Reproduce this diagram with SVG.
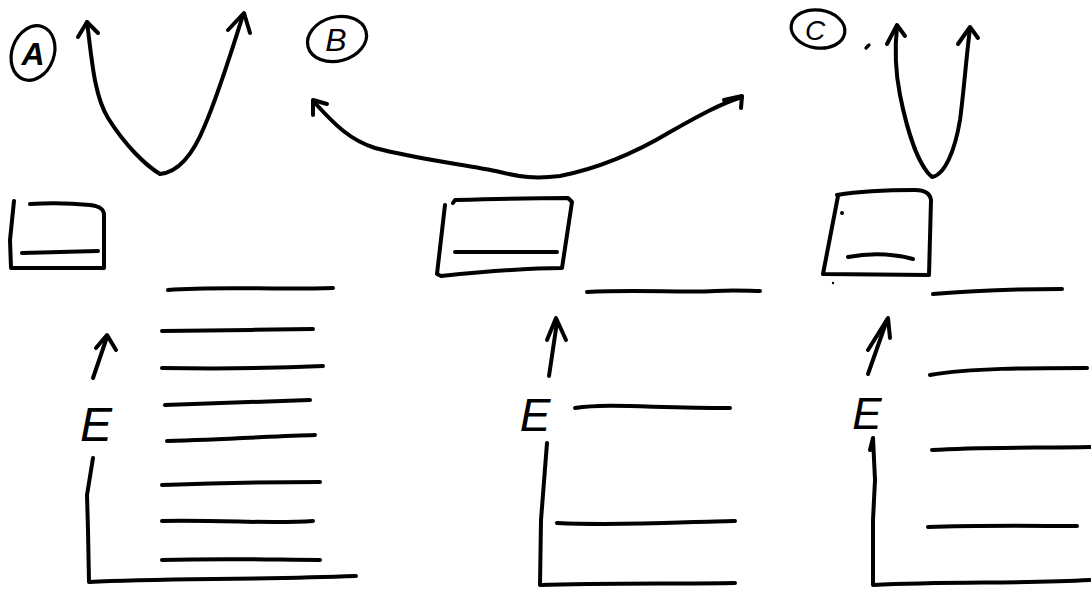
<svg xmlns="http://www.w3.org/2000/svg" width="1091" height="596" viewBox="0 0 1091 596">
<style>
.s{fill:none;stroke:#000;stroke-width:4;stroke-linecap:round;stroke-linejoin:round}
.t{fill:none;stroke:#000;stroke-width:3.2;stroke-linecap:round;stroke-linejoin:round}
.l{font-family:"Liberation Sans",Arial,sans-serif;font-style:italic;fill:#000}
</style>
<rect width="1091" height="596" fill="#fff"/>

<!-- Panel A -->
<g id="labelA">
<ellipse cx="33" cy="53" rx="21" ry="28" transform="rotate(20 33 53)" class="t"/>
<text x="33" y="65" text-anchor="middle" font-size="32" font-weight="bold" class="l">A</text>
</g>
<g id="curveA">
<path class="s" d="M87,22 C92,60 94,95 108,118 C125,145 145,165 160,174 C180,172 195,150 205,125 C218,95 232,50 243,15"/>
<path class="s" d="M78,37 L87,22 L98,33"/>
<path class="s" d="M228,30 L244,13 L250,33"/>
</g>
<g id="boxA">
<path class="s" d="M14,201 L10,240 L11,268 L104,268 L104,215 C104,208 98,206 90,205 C70,203 45,203 30,204"/>
<path class="s" d="M22,253 L98,251"/>
</g>
<g id="levelsA">
<path class="s" d="M168,290 C220,286 270,290 333,288"/>
<path class="s" d="M162,331 C220,330 260,330 313,329"/>
<path class="s" d="M162,368 C220,369 280,368 323,366"/>
<path class="s" d="M165,405 C220,403 270,401 310,400"/>
<path class="s" d="M167,441 C230,439 280,436 315,435"/>
<path class="s" d="M162,485 C220,483 280,482 320,482"/>
<path class="s" d="M162,521 C230,520 270,524 313,521"/>
<path class="s" d="M162,560 C230,558 280,560 320,560"/>
</g>
<g id="axisA">
<path class="s" d="M93,378 L107,337"/>
<path class="s" d="M96,348 L107,335 L116,350"/>
<text x="96" y="441" text-anchor="middle" font-size="48" class="l">E</text>
<path class="s" d="M93,458 L87,495 L88,530 L89,582 C160,578 250,580 356,576"/>
</g>

<!-- Panel B -->
<g id="labelB">
<ellipse cx="337" cy="39" rx="30" ry="22" transform="rotate(-15 337 39)" class="t"/>
<text x="336" y="51" text-anchor="middle" font-size="32" class="l">B</text>
</g>
<g id="curveB">
<path class="s" d="M315,103 C335,125 350,140 375,148 C420,160 470,165 500,172 C520,177 535,179 560,176 C600,168 640,150 670,132 C700,115 720,104 742,97"/>
<path class="s" d="M313,115 L313,100 L327,104"/>
<path class="s" d="M724,100 L742,96 L741,108"/>
</g>
<g id="boxB">
<path class="s" d="M445,205 L437,274 L441,276 C480,272 520,268 562,268 L572,202 L568,198 C530,198 490,199 455,200 L453,203"/>
<path class="s" d="M455,252 L557,252"/>
</g>
<g id="levelsB">
<path class="s" d="M587,292 C640,289 680,293 715,291 C735,290 750,291 760,291"/>
<path class="s" d="M575,408 C610,403 650,408 730,408"/>
<path class="s" d="M557,523 C620,526 680,522 735,521"/>
</g>
<g id="axisB">
<path class="s" d="M549,376 L557,322"/>
<path class="s" d="M547,340 L556,318 L566,340"/>
<text x="535" y="431" text-anchor="middle" font-size="46" class="l">E</text>
<path class="s" d="M547,443 L541,520 L540,585 C600,583 680,584 735,583"/>
</g>

<!-- Panel C -->
<g id="labelC">
<ellipse cx="818" cy="29" rx="27" ry="19" transform="rotate(8 818 29)" class="t"/>
<text x="815" y="40" text-anchor="middle" font-size="28" class="l">C</text>
<path class="t" d="M866,48 L869,45"/>
</g>
<g id="curveC">
<path class="s" d="M897,26 C894,55 896,75 900,95 C907,130 918,165 932,177 C945,175 955,150 960,120 C964,90 966,60 970,28"/>
<path class="s" d="M887,44 L897,25 L905,36"/>
<path class="s" d="M958,44 L970,27 L978,38"/>
</g>
<g id="boxC">
<path class="s" d="M838,196 L823,274 L929,275 L931,200 C930,193 925,190 915,190 C880,190 855,192 837,195"/>
<path class="s" d="M848,257 C870,253 890,253 913,259"/>
<circle cx="842" cy="213" r="2" fill="#000"/>
<circle cx="833" cy="283" r="1.2" fill="#000"/>
</g>
<g id="levelsC">
<path class="s" d="M933,294 C980,290 1020,289 1062,289"/>
<path class="s" d="M930,375 C970,368 1030,368 1087,368"/>
<path class="s" d="M932,450 C980,447 1040,448 1090,447"/>
<path class="s" d="M928,527 C980,525 1040,526 1077,526"/>
</g>
<g id="axisC">
<path class="s" d="M868,374 L887,320"/>
<path class="s" d="M868,350 L888,318 L890,338"/>
<text x="867" y="429" text-anchor="middle" font-size="44" class="l">E</text>
<path class="s" d="M873,438 L870,450 M873,438 L875,480 L873,520 L873,585 C950,581 1020,584 1090,580"/>
</g>
</svg>
